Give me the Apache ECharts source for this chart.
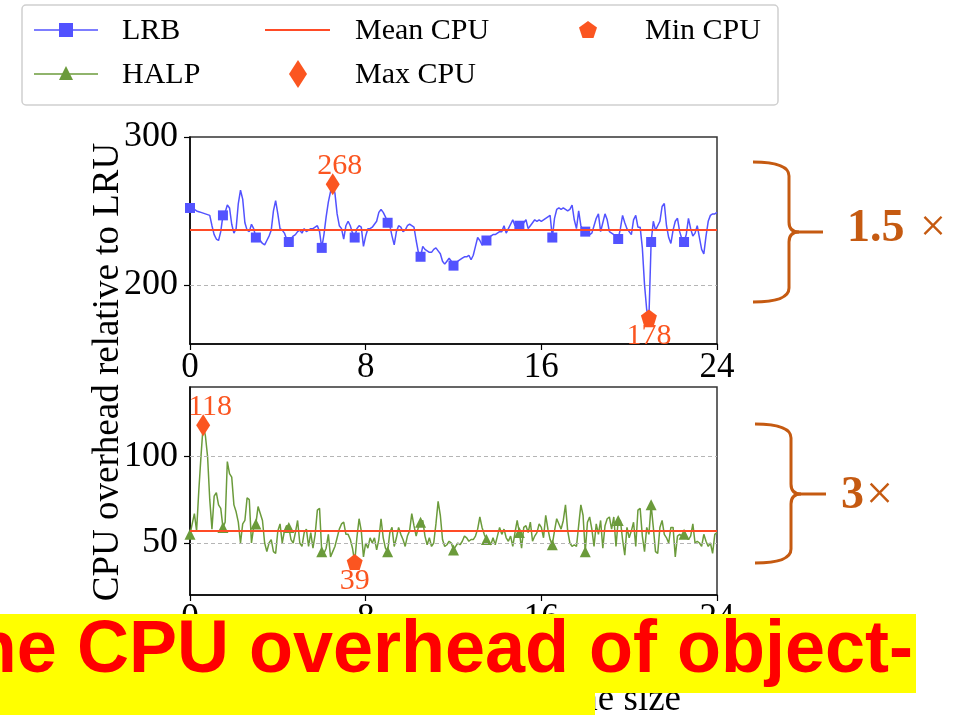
<!DOCTYPE html>
<html><head><meta charset="utf-8">
<script src="https://cdn.jsdelivr.net/npm/echarts@6/dist/echarts.min.js"></script>
<style>html,body{margin:0;padding:0;background:#fff}#c{width:974px;height:715px}</style>
</head><body><div id="c"></div>
<script>
// ---------- data ----------
const xStep = 0.1;
const xTicks = [0, 8, 16, 24];
const lrbYTicks = [200, 300];
const halpYTicks = [50, 100];
const lrbGridLines = [200];
const halpGridLines = [50, 100];
const markerEvery = 15;

const lrbValues = [
  252,252,251,250,249.5,249,248.5,248,247.5,247,
  240,234,231,230,236,247,249,254,252,241,
  235,238,255,264,258,242,237,236,241,238,
  232,231,230,228,227,230,233,237,250,257,
  248,238,237,235,231,229,231,233,234,236,
  237,235,238,236,237,238,238,239,240,236,
  225,234,246,256,263,268,262,248,240,238,
  231,240,243,240,235,232,238,240,239,226,
  233,238,238,239,241,243,249,251,249,246,
  242,240,233,227,236,240,239,236,237,240,
  241,240,239,230,222,219,226,224,223,222,
  222,224,225,223,221,216,214,216,218,216,
  213,214,216,217,218,219,219,220,217,220,
  226,232,230,227,229,230,231,233,234,234,
  235,236,236,240,235,238,241,244,240,242,
  240,241,242,244,238,240,242,244,243,244,
  243,244,245,246,247,232,245,251,252,251,
  252,251,250,251,254,244,238,250,240,237,
  236,236,234,235,240,245,248,236,242,248,
  244,236,235,234,233,231,238,247,242,238,
  236,234,244,247,239,239,225,200,183,178,
  229,243,237,240,243,253,255,240,232,228,
  237,243,245,236,231,229,234,245,238,233,
  235,240,232,224,221,233,243,247,248,248,
  249
];

const halpValues = [
  55,61,67,57,80,100,118,112,100,75,
  58,77,79,72,70,59,62,97,90,88,
  72,68,62,50,61,63,76,75,50,59,
  61,71,67,63,50,45,50,52,45,44,
  57,61,50,57,60,59,52,50,56,63,
  50,48,56,58,48,56,47,55,69,70,
  45,44,47,55,42,45,48,53,58,61,
  62,55,55,52,47,39,53,64,57,42,
  50,47,53,50,53,46,52,64,53,47,
  45,56,59,48,53,59,55,52,48,54,
  57,67,60,54,59,62,63,54,49,53,
  48,50,61,74,66,52,48,49,51,50,
  46,48,50,49,51,54,53,51,52,52,
  54,58,65,59,55,52,50,49,53,49,
  54,59,55,58,53,51,54,48,56,63,
  56,47,59,60,56,62,51,54,56,61,
  59,53,66,58,52,49,57,64,61,58,
  63,72,57,50,48,49,48,60,72,66,
  45,62,65,58,48,61,55,63,47,60,
  64,65,58,65,48,63,63,52,43,59,
  53,57,62,48,69,70,54,45,59,55,
  72,59,45,44,59,63,55,53,50,59,
  59,42,54,55,54,55,53,52,54,61,
  50,51,50,48,55,51,48,50,44,55,
  56
];

// ---------- styles ----------
const SERIF = 'Liberation Serif';
const BLUE = '#5252ff';
const GREEN = '#6b9b3b';
const RED = '#fb5520';
const MEAN = '#ff4b26';
const BRACE = '#c55a11';
const PENTAGON = 'path://M0,-10L9.51,-3.09L5.88,8.09L-5.88,8.09L-9.51,-3.09Z';

const toXY = vals => vals.map((v, i) => [Math.round(i * xStep * 10) / 10, v]);
const markerSize = (size, n) => (val, p) =>
  (p.dataIndex % markerEvery === 0 && p.dataIndex < n - 1) ? size : 0;

function mkSeries(name, values, color, symbol, symSize, idx, gridLines) {
  return {
    name, type: 'line', xAxisIndex: idx, yAxisIndex: idx,
    data: toXY(values),
    symbol, symbolSize: markerSize(symSize, values.length), showAllSymbol: true,
    lineStyle: { color, width: 1.5 }, itemStyle: { color },
    animation: false, z: 3,
    markLine: {
      silent: true, symbol: 'none', animation: false, label: { show: false },
      data: [
        { type: 'average', valueDim: 'y', lineStyle: { color: MEAN, width: 1.8, type: 'solid' } },
        ...gridLines.map(v => ({ yAxis: v, lineStyle: { color: '#b5b5b5', width: 1, type: [4, 3] } }))
      ]
    },
    markPoint: {
      animation: false,
      label: { show: true, formatter: '{c}', fontFamily: SERIF, fontSize: 30, color: RED },
      data: [
        { type: 'max', valueDim: 'y', symbol: 'diamond', symbolSize: [14, 22],
          itemStyle: { color: RED }, label: { position: 'top', distance: -8, offset: [7, 0] } },
        { type: 'min', valueDim: 'y', symbol: PENTAGON, symbolSize: 16,
          itemStyle: { color: RED }, label: { position: 'bottom', distance: -4 } }
      ]
    }
  };
}

function mkX(idx) {
  return {
    type: 'value', gridIndex: idx, min: 0, max: 24,
    axisLine: { show: true, onZero: false, lineStyle: { color: '#000', width: 1.5 } },
    axisTick: { show: true, customValues: xTicks, length: 6, lineStyle: { color: '#000', width: 1.2 } },
    axisLabel: { customValues: xTicks, fontFamily: SERIF, fontSize: 35, color: '#000', margin: 6 },
    splitLine: { show: false }
  };
}
function mkY(idx, min, max, ticks) {
  return {
    type: 'value', gridIndex: idx, min, max,
    axisLine: { show: true, onZero: false, lineStyle: { color: '#000', width: 1.5 } },
    axisTick: { show: true, customValues: ticks, length: 6, lineStyle: { color: '#000', width: 1.2 } },
    axisLabel: { customValues: ticks, fontFamily: SERIF, fontSize: 36, color: '#000', margin: 12 },
    splitLine: { show: false }
  };
}

// ---------- legend (drawn) ----------
const legendText = (t, x, y) => ({ type: 'text', x, y, style: { text: t, font: '30px "Liberation Serif"', fill: '#000', verticalAlign: 'middle' } });
const legend = [
  { type: 'rect', shape: { x: 22, y: 5, width: 756, height: 100, r: 4 }, style: { fill: '#fff', stroke: '#cfcfcf', lineWidth: 1.5 } },
  { type: 'line', shape: { x1: 34, y1: 30, x2: 98, y2: 30 }, style: { stroke: BLUE, lineWidth: 1.6 } },
  { type: 'rect', shape: { x: 59, y: 23, width: 14, height: 14 }, style: { fill: BLUE } },
  legendText('LRB', 122, 31),
  { type: 'line', shape: { x1: 34, y1: 74, x2: 98, y2: 74 }, style: { stroke: GREEN, lineWidth: 1.6 } },
  { type: 'polygon', shape: { points: [[66, 66], [73, 80], [59, 80]] }, style: { fill: GREEN } },
  legendText('HALP', 122, 75),
  { type: 'line', shape: { x1: 265, y1: 30, x2: 330, y2: 30 }, style: { stroke: MEAN, lineWidth: 1.8 } },
  legendText('Mean CPU', 355, 31),
  { type: 'polygon', shape: { points: [[298, 60], [307, 74], [298, 88], [289, 74]] }, style: { fill: RED } },
  legendText('Max CPU', 355, 75),
  { type: 'polygon', shape: { points: [[588, 21], [597, 27.5], [593.5, 38], [582.5, 38], [579, 27.5]] }, style: { fill: RED } },
  legendText('Min CPU', 645, 31)
];

// ---------- braces ----------
function brace(top, mid, bot, xl, xv, xt) {
  const s = { stroke: BRACE, lineWidth: 3, fill: null };
  return [
    { type: 'bezierCurve', shape: { x1: xl, y1: top, cpx1: xv, cpy1: top, x2: xv, y2: top + 14 }, style: s },
    { type: 'line', shape: { x1: xv, y1: top + 14, x2: xv, y2: mid - 10 }, style: s },
    { type: 'bezierCurve', shape: { x1: xv, y1: mid - 10, cpx1: xv, cpy1: mid, x2: xv + 10, y2: mid }, style: s },
    { type: 'line', shape: { x1: xv + 10, y1: mid, x2: xt, y2: mid }, style: s },
    { type: 'bezierCurve', shape: { x1: xv + 10, y1: mid, cpx1: xv, cpy1: mid, x2: xv, y2: mid + 10 }, style: s },
    { type: 'line', shape: { x1: xv, y1: mid + 10, x2: xv, y2: bot - 14 }, style: s },
    { type: 'bezierCurve', shape: { x1: xv, y1: bot - 14, cpx1: xv, cpy1: bot, x2: xl, y2: bot }, style: s }
  ];
}

const graphic = [
  ...legend,
  ...brace(162, 232, 302, 753, 789, 823),
  ...brace(424, 494, 563, 755, 791, 826),
  { type: 'text', x: 847, y: 229, style: { text: '1.5', font: 'bold 46px "Liberation Serif"', fill: BRACE, verticalAlign: 'middle' } },
  { type: 'text', x: 920, y: 229, style: { text: '×', font: '46px "Liberation Serif"', fill: BRACE, verticalAlign: 'middle' } },
  { type: 'text', x: 841, y: 496, style: { text: '3', font: 'bold 46px "Liberation Serif"', fill: BRACE, verticalAlign: 'middle' } },
  { type: 'text', x: 866, y: 496, style: { text: '×', font: '48px "Liberation Serif"', fill: BRACE, verticalAlign: 'middle' } },
  // y-axis title
  { type: 'text', x: 108, y: 372, rotation: Math.PI / 2,
    style: { text: 'CPU overhead relative to LRU', font: '37px "Liberation Serif"', fill: '#000', align: 'center', verticalAlign: 'middle' } },
  // x-axis title (mostly hidden by the banner)
  { type: 'text', x: 681, y: 700, style: { text: 'Cache size', font: '37px "Liberation Serif"', fill: '#000', align: 'right', verticalAlign: 'middle' } },
  // banner
  { type: 'rect', z: 100, shape: { x: 0, y: 614, width: 916, height: 79 }, style: { fill: '#ffff00' } },
  { type: 'rect', z: 100, shape: { x: 0, y: 692, width: 595, height: 23 }, style: { fill: '#ffff00' } },
  { type: 'text', z: 101, x: 913, y: 651, scaleX: 0.96,
    style: { text: 'the CPU overhead of object-', font: 'bold 75px "Liberation Sans"', fill: '#ff0000', align: 'right', verticalAlign: 'middle' } }
];

const option = {
  animation: false,
  backgroundColor: '#fff',
  grid: [
    { left: 190, top: 137, width: 527, height: 207, show: true, borderColor: '#333', borderWidth: 1.5, backgroundColor: 'transparent' },
    { left: 190, top: 387, width: 527, height: 208, show: true, borderColor: '#333', borderWidth: 1.5, backgroundColor: 'transparent' }
  ],
  xAxis: [mkX(0), mkX(1)],
  yAxis: [mkY(0, 160, 300, lrbYTicks), mkY(1, 20, 140, halpYTicks)],
  series: [
    mkSeries('LRB', lrbValues, BLUE, 'rect', 10, 0, lrbGridLines),
    mkSeries('HALP', halpValues, GREEN, 'triangle', 11, 1, halpGridLines)
  ],
  graphic
};
const chart = echarts.init(document.getElementById('c'));
chart.setOption(option);
</script></body></html>
